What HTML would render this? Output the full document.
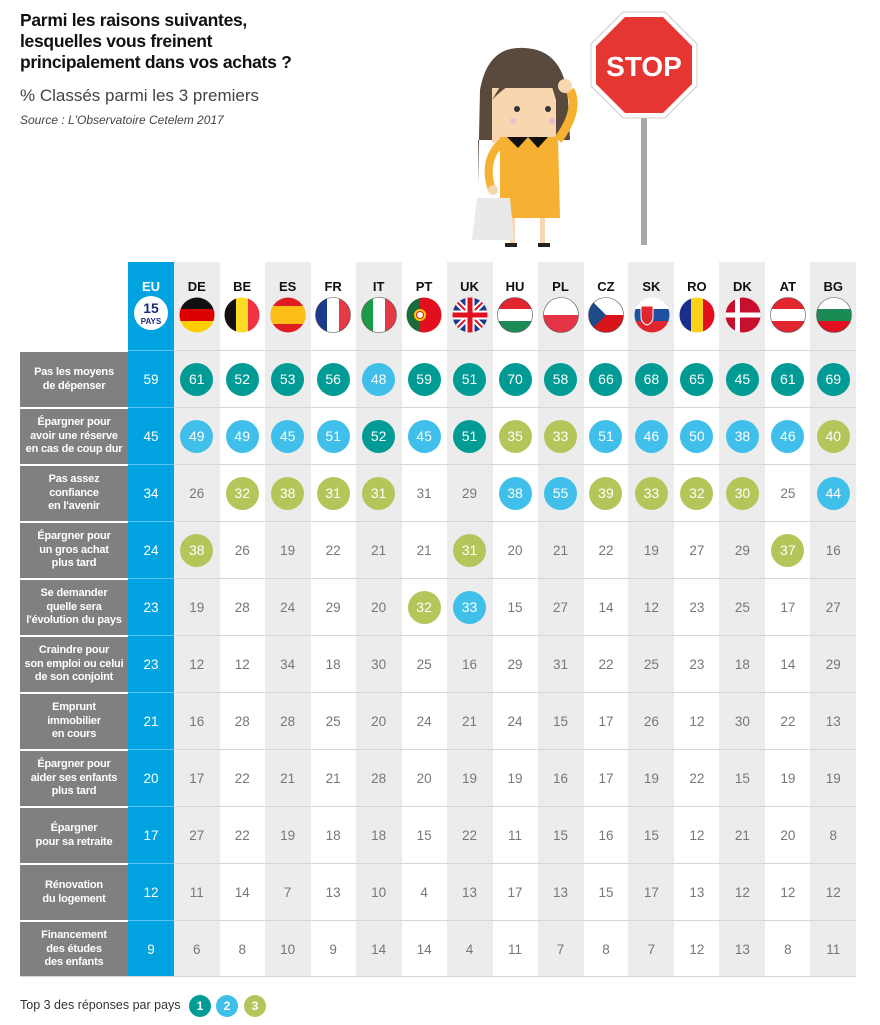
<!DOCTYPE html>
<html><head><meta charset="utf-8"><style>
*{margin:0;padding:0;box-sizing:border-box}
body{width:880px;height:1025px;background:#fff;font-family:"Liberation Sans",sans-serif;position:relative;overflow:hidden}
.t{position:absolute;left:20px;top:10px;font-size:17.5px;font-weight:bold;line-height:21px;color:#111;letter-spacing:-0.3px}
.s{position:absolute;left:20px;top:86px;font-size:17px;color:#444}
.src{position:absolute;left:20px;top:113px;font-size:12px;font-style:italic;color:#444}
.tbl{position:absolute;left:20px;top:262px;display:grid;grid-template-columns:108px 46px repeat(15,45.47px)}
.bg{position:absolute;top:262px;height:715px}
.h{height:88px;position:relative;text-align:center}
.h b{display:block;font-size:13px;margin-top:17px;color:#111}
.h svg{position:absolute;left:5px;top:35px}
.l{height:57px;background:#808081;color:#fff;font-weight:bold;font-size:11px;line-height:13.5px;display:flex;align-items:center;justify-content:center;text-align:center;border-top:2px solid #fff;letter-spacing:-0.2px}
.eu{background:#00a3e0;color:#fff}
.c{height:57px;display:flex;align-items:center;justify-content:center;font-size:13.5px;color:#777;border-top:1px solid #d6d6d6}
.c.eu{color:#fff;border-top:1px solid #5cc3ec}
.c span{width:33px;height:33px;border-radius:50%;display:flex;align-items:center;justify-content:center;color:#fff;font-size:14px}
.a{background:#009b94}.b{background:#3fbfe9}.g{background:#b4c65a}
.leg{position:absolute;left:20px;top:998px;font-size:12.5px;color:#333}
.lc{position:absolute;top:995px;width:22px;height:22px;border-radius:50%;color:#fff;font-weight:bold;font-size:12px;text-align:center;line-height:22px}
</style></head><body>
<div class="t">Parmi les raisons suivantes,<br>lesquelles vous freinent<br>principalement dans vos achats ?</div>
<div class="s">% Classés parmi les 3 premiers</div>
<div class="src">Source : L'Observatoire Cetelem 2017</div>

<svg style="position:absolute;left:460px;top:10px" width="250" height="245" viewBox="460 10 250 245">
<rect x="641" y="110" width="6" height="135" fill="#a8a8a8"/>
<polygon points="623,12 665,12 697,44 697,86 665,118 623,118 591,86 591,44" fill="#fff" stroke="#ccc"/>
<polygon points="625,17 663,17 692,46 692,84 663,113 625,113 596,84 596,46" fill="#e53632"/>
<text x="644" y="76" text-anchor="middle" fill="#fff" font-weight="bold" font-size="28" font-family="Liberation Sans">STOP</text>
<path d="M478,185 L480,90 Q488,45 525,48 Q564,50 568,100 L570,140 L478,140Z" fill="#5a4a3e"/>
<rect x="492" y="88" width="64" height="55" fill="#f8d6b0"/>
<path d="M492,100 Q520,70 550,80 L556,100 L556,88 Q540,65 510,70 Z" fill="#5a4a3e"/>
<circle cx="517" cy="109" r="3" fill="#333"/><circle cx="548" cy="109" r="3" fill="#333"/>
<circle cx="513" cy="121" r="3" fill="#f0b8d0"/><circle cx="552" cy="121" r="3" fill="#f0b8d0"/>
<path d="M558,140 Q580,110 570,90" stroke="#f6b132" stroke-width="9" fill="none"/>
<circle cx="565" cy="86" r="7" fill="#f8d6b0"/>
<path d="M500,137 L558,137 L560,218 L500,218Z" fill="#f6b132"/>
<polygon points="507,137 518,148 528,137 538,148 548,137" fill="#111"/>
<path d="M502,142 Q482,160 492,190" stroke="#f6b132" stroke-width="8" fill="none"/>
<rect x="510" y="218" width="5" height="26" fill="#f8d6b0"/><rect x="540" y="218" width="5" height="26" fill="#f8d6b0"/>
<rect x="505" y="243" width="12" height="4" fill="#222"/><rect x="538" y="243" width="12" height="4" fill="#222"/>
<polygon points="477,198 510,198 514,240 472,240" fill="#e9e9e9"/>
<circle cx="493" cy="190" r="5" fill="#f8d6b0"/>
</svg>

<div class="bg" style="left:174px;width:45.5px;background:#ececec"></div>
<div class="bg" style="left:265px;width:45.5px;background:#ececec"></div>
<div class="bg" style="left:356px;width:45.5px;background:#ececec"></div>
<div class="bg" style="left:447px;width:45.5px;background:#ececec"></div>
<div class="bg" style="left:538px;width:45.5px;background:#ececec"></div>
<div class="bg" style="left:628px;width:45.5px;background:#ececec"></div>
<div class="bg" style="left:719px;width:45.5px;background:#ececec"></div>
<div class="bg" style="left:810px;width:45.5px;background:#ececec"></div>

<div class="tbl">
<div class="h"></div>
<div class="h eu"><b style="color:#fff">EU</b><div style="position:absolute;left:6px;top:34px;width:34px;height:34px;border-radius:50%;background:#fff;color:#1a2a7a;font-weight:bold;line-height:11px;padding-top:5px"><div style="font-size:14px;line-height:15px">15</div><div style="font-size:8px">PAYS</div></div></div>
<div class="h"><b>DE</b><svg width="36" height="36"><defs><clipPath id="k"><circle cx="18" cy="18" r="17.5"/></clipPath></defs><g clip-path="url(#k)"><rect width="36" height="12" fill="#111"/><rect y="12" width="36" height="12" fill="#dd0000"/><rect y="24" width="36" height="12" fill="#ffce00"/></g></svg></div>
<div class="h"><b>BE</b><svg width="36" height="36"><g clip-path="url(#k)"><rect width="12" height="36" fill="#111"/><rect x="12" width="12" height="36" fill="#fdda24"/><rect x="24" width="12" height="36" fill="#ef3340"/></g></svg></div>
<div class="h"><b>ES</b><svg width="36" height="36"><g clip-path="url(#k)"><rect width="36" height="36" fill="#e21c23"/><rect y="9" width="36" height="18" fill="#fbbf16"/></g></svg></div>
<div class="h"><b>FR</b><svg width="36" height="36"><g clip-path="url(#k)"><rect width="12" height="36" fill="#1a3a8a"/><rect x="12" width="12" height="36" fill="#fff"/><rect x="24" width="12" height="36" fill="#e63946"/></g><circle cx="18" cy="18" r="17.5" fill="none" stroke="#555" stroke-width="0.6"/></svg></div>
<div class="h"><b>IT</b><svg width="36" height="36"><g clip-path="url(#k)"><rect width="12" height="36" fill="#1b9a48"/><rect x="12" width="12" height="36" fill="#fff"/><rect x="24" width="12" height="36" fill="#e63946"/></g><circle cx="18" cy="18" r="17.5" fill="none" stroke="#555" stroke-width="0.6"/></svg></div>
<div class="h"><b>PT</b><svg width="36" height="36"><g clip-path="url(#k)"><rect width="14" height="36" fill="#1a6b3a"/><rect x="14" width="22" height="36" fill="#e0101f"/><circle cx="14" cy="18" r="6" fill="#f8d000"/><circle cx="14" cy="18" r="3.5" fill="#fff" stroke="#e0101f"/></g></svg></div>
<div class="h"><b>UK</b><svg width="36" height="36"><g clip-path="url(#k)"><rect width="36" height="36" fill="#1f3a8a"/><path d="M0,0L36,36M36,0L0,36" stroke="#fff" stroke-width="6"/><path d="M0,0L36,36M36,0L0,36" stroke="#e0101f" stroke-width="2"/><path d="M18,0V36M0,18H36" stroke="#fff" stroke-width="9"/><path d="M18,0V36M0,18H36" stroke="#e0101f" stroke-width="5"/></g></svg></div>
<div class="h"><b>HU</b><svg width="36" height="36"><g clip-path="url(#k)"><rect width="36" height="12" fill="#e2262f"/><rect y="12" width="36" height="12" fill="#fff"/><rect y="24" width="36" height="12" fill="#1b8a55"/></g><circle cx="18" cy="18" r="17.5" fill="none" stroke="#555" stroke-width="0.6"/></svg></div>
<div class="h"><b>PL</b><svg width="36" height="36"><g clip-path="url(#k)"><rect width="36" height="18" fill="#fff"/><rect y="18" width="36" height="18" fill="#e63346"/></g><circle cx="18" cy="18" r="17.5" fill="none" stroke="#555" stroke-width="0.6"/></svg></div>
<div class="h"><b>CZ</b><svg width="36" height="36"><g clip-path="url(#k)"><rect width="36" height="18" fill="#fff"/><rect y="18" width="36" height="18" fill="#d7141a"/><polygon points="0,0 18,18 0,36" fill="#1f4a8a"/></g><circle cx="18" cy="18" r="17.5" fill="none" stroke="#555" stroke-width="0.6"/></svg></div>
<div class="h"><b>SK</b><svg width="36" height="36"><g clip-path="url(#k)"><rect width="36" height="12" fill="#fff"/><rect y="12" width="36" height="12" fill="#1f4fa0"/><rect y="24" width="36" height="12" fill="#e2262f"/><path d="M7,9H19V20Q19,26 13,28Q7,26 7,20Z" fill="#e2262f" stroke="#fff"/></g></svg></div>
<div class="h"><b>RO</b><svg width="36" height="36"><g clip-path="url(#k)"><rect width="12" height="36" fill="#1a2f8a"/><rect x="12" width="12" height="36" fill="#fcd116"/><rect x="24" width="12" height="36" fill="#e2101f"/></g></svg></div>
<div class="h"><b>DK</b><svg width="36" height="36"><g clip-path="url(#k)"><rect width="36" height="36" fill="#c8102e"/><rect x="10" width="5" height="36" fill="#fff"/><rect y="15.5" width="36" height="5" fill="#fff"/></g></svg></div>
<div class="h"><b>AT</b><svg width="36" height="36"><g clip-path="url(#k)"><rect width="36" height="36" fill="#e2262f"/><rect y="12" width="36" height="12" fill="#fff"/></g><circle cx="18" cy="18" r="17.5" fill="none" stroke="#555" stroke-width="0.6"/></svg></div>
<div class="h"><b>BG</b><svg width="36" height="36"><g clip-path="url(#k)"><rect width="36" height="12" fill="#fff"/><rect y="12" width="36" height="12" fill="#1b8a55"/><rect y="24" width="36" height="12" fill="#e2101f"/></g><circle cx="18" cy="18" r="17.5" fill="none" stroke="#555" stroke-width="0.6"/></svg></div>

<div class="l">Pas les moyens<br>de dépenser</div><div class="c eu">59</div>
<div class="c"><span class="a">61</span></div><div class="c"><span class="a">52</span></div><div class="c"><span class="a">53</span></div><div class="c"><span class="a">56</span></div><div class="c"><span class="b">48</span></div><div class="c"><span class="a">59</span></div><div class="c"><span class="a">51</span></div><div class="c"><span class="a">70</span></div><div class="c"><span class="a">58</span></div><div class="c"><span class="a">66</span></div><div class="c"><span class="a">68</span></div><div class="c"><span class="a">65</span></div><div class="c"><span class="a">45</span></div><div class="c"><span class="a">61</span></div><div class="c"><span class="a">69</span></div>

<div class="l">Épargner pour<br>avoir une réserve<br>en cas de coup dur</div><div class="c eu">45</div>
<div class="c"><span class="b">49</span></div><div class="c"><span class="b">49</span></div><div class="c"><span class="b">45</span></div><div class="c"><span class="b">51</span></div><div class="c"><span class="a">52</span></div><div class="c"><span class="b">45</span></div><div class="c"><span class="a">51</span></div><div class="c"><span class="g">35</span></div><div class="c"><span class="g">33</span></div><div class="c"><span class="b">51</span></div><div class="c"><span class="b">46</span></div><div class="c"><span class="b">50</span></div><div class="c"><span class="b">38</span></div><div class="c"><span class="b">46</span></div><div class="c"><span class="g">40</span></div>

<div class="l">Pas assez<br>confiance<br>en l'avenir</div><div class="c eu">34</div>
<div class="c">26</div><div class="c"><span class="g">32</span></div><div class="c"><span class="g">38</span></div><div class="c"><span class="g">31</span></div><div class="c"><span class="g">31</span></div><div class="c">31</div><div class="c">29</div><div class="c"><span class="b">38</span></div><div class="c"><span class="b">55</span></div><div class="c"><span class="g">39</span></div><div class="c"><span class="g">33</span></div><div class="c"><span class="g">32</span></div><div class="c"><span class="g">30</span></div><div class="c">25</div><div class="c"><span class="b">44</span></div>

<div class="l">Épargner pour<br>un gros achat<br>plus tard</div><div class="c eu">24</div>
<div class="c"><span class="g">38</span></div><div class="c">26</div><div class="c">19</div><div class="c">22</div><div class="c">21</div><div class="c">21</div><div class="c"><span class="g">31</span></div><div class="c">20</div><div class="c">21</div><div class="c">22</div><div class="c">19</div><div class="c">27</div><div class="c">29</div><div class="c"><span class="g">37</span></div><div class="c">16</div>

<div class="l">Se demander<br>quelle sera<br>l'évolution du pays</div><div class="c eu">23</div>
<div class="c">19</div><div class="c">28</div><div class="c">24</div><div class="c">29</div><div class="c">20</div><div class="c"><span class="g">32</span></div><div class="c"><span class="b">33</span></div><div class="c">15</div><div class="c">27</div><div class="c">14</div><div class="c">12</div><div class="c">23</div><div class="c">25</div><div class="c">17</div><div class="c">27</div>

<div class="l">Craindre pour<br>son emploi ou celui<br>de son conjoint</div><div class="c eu">23</div>
<div class="c">12</div><div class="c">12</div><div class="c">34</div><div class="c">18</div><div class="c">30</div><div class="c">25</div><div class="c">16</div><div class="c">29</div><div class="c">31</div><div class="c">22</div><div class="c">25</div><div class="c">23</div><div class="c">18</div><div class="c">14</div><div class="c">29</div>

<div class="l">Emprunt<br>immobilier<br>en cours</div><div class="c eu">21</div>
<div class="c">16</div><div class="c">28</div><div class="c">28</div><div class="c">25</div><div class="c">20</div><div class="c">24</div><div class="c">21</div><div class="c">24</div><div class="c">15</div><div class="c">17</div><div class="c">26</div><div class="c">12</div><div class="c">30</div><div class="c">22</div><div class="c">13</div>

<div class="l">Épargner pour<br>aider ses enfants<br>plus tard</div><div class="c eu">20</div>
<div class="c">17</div><div class="c">22</div><div class="c">21</div><div class="c">21</div><div class="c">28</div><div class="c">20</div><div class="c">19</div><div class="c">19</div><div class="c">16</div><div class="c">17</div><div class="c">19</div><div class="c">22</div><div class="c">15</div><div class="c">19</div><div class="c">19</div>

<div class="l">Épargner<br>pour sa retraite</div><div class="c eu">17</div>
<div class="c">27</div><div class="c">22</div><div class="c">19</div><div class="c">18</div><div class="c">18</div><div class="c">15</div><div class="c">22</div><div class="c">11</div><div class="c">15</div><div class="c">16</div><div class="c">15</div><div class="c">12</div><div class="c">21</div><div class="c">20</div><div class="c">8</div>

<div class="l">Rénovation<br>du logement</div><div class="c eu">12</div>
<div class="c">11</div><div class="c">14</div><div class="c">7</div><div class="c">13</div><div class="c">10</div><div class="c">4</div><div class="c">13</div><div class="c">17</div><div class="c">13</div><div class="c">15</div><div class="c">17</div><div class="c">13</div><div class="c">12</div><div class="c">12</div><div class="c">12</div>

<div class="l">Financement<br>des études<br>des enfants</div><div class="c eu">9</div>
<div class="c">6</div><div class="c">8</div><div class="c">10</div><div class="c">9</div><div class="c">14</div><div class="c">14</div><div class="c">4</div><div class="c">11</div><div class="c">7</div><div class="c">8</div><div class="c">7</div><div class="c">12</div><div class="c">13</div><div class="c">8</div><div class="c">11</div>
</div>
<div style="position:absolute;left:20px;top:976px;width:836px;height:1px;background:#d6d6d6"></div>

<div class="leg">Top 3 des réponses par pays</div>
<div class="lc a" style="left:189px">1</div>
<div class="lc b" style="left:216px">2</div>
<div class="lc g" style="left:244px">3</div>
</body></html>
